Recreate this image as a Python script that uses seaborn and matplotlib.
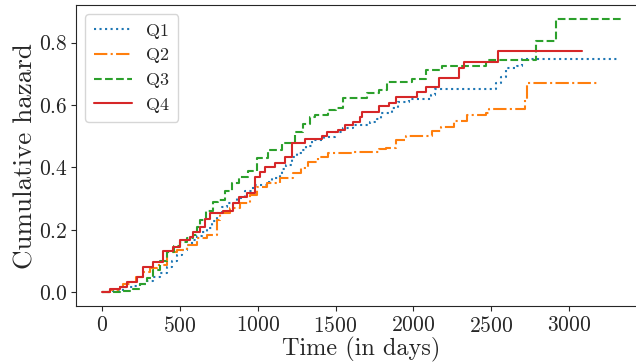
import numpy as np
import pandas as pd
import seaborn as sns
import matplotlib.pyplot as plt

# === Step data (time in days, cumulative hazard) ===
q1_t = [0, 60, 135, 200, 244, 290, 327, 370, 416, 450, 481, 515, 545, 580, 609, 640, 673, 705, 737, 770,
        801, 865, 920, 968, 1058, 1090, 1141, 1154, 1180, 1218, 1250, 1282, 1310, 1346, 1429, 1494, 1545,
        1609, 1718, 1763, 1790, 1860, 1900, 1974, 2115, 2140, 2532, 2564, 2596, 2667, 2699, 3320]
q1_h = [0, 0.006, 0.016, 0.02, 0.026, 0.036, 0.048, 0.063, 0.08, 0.1, 0.12, 0.137, 0.153, 0.167, 0.18, 0.193,
        0.207, 0.23, 0.255, 0.272, 0.287, 0.303, 0.325, 0.345, 0.354, 0.367, 0.376, 0.395, 0.408, 0.434,
        0.445, 0.456, 0.47, 0.488, 0.498, 0.514, 0.526, 0.536, 0.545, 0.555, 0.574, 0.59, 0.61, 0.62,
        0.632, 0.65, 0.67, 0.689, 0.718, 0.724, 0.748, 0.748]

q2_t = [0, 50, 100, 135, 179, 220, 263, 310, 352, 416, 481, 545, 609, 673, 737, 756, 820, 885, 949, 994,
        1058, 1141, 1224, 1280, 1320, 1385, 1449, 1609, 1782, 1827, 1891, 1955, 2122, 2180, 2263, 2346,
        2468, 2487, 2718, 2731, 3192]
q2_h = [0, 0.008, 0.018, 0.026, 0.035, 0.048, 0.064, 0.077, 0.089, 0.128, 0.137, 0.153, 0.175, 0.185,
        0.233, 0.255, 0.271, 0.287, 0.313, 0.338, 0.35, 0.367, 0.383, 0.399, 0.418, 0.434, 0.447, 0.45,
        0.459, 0.462, 0.488, 0.502, 0.517, 0.53, 0.55, 0.568, 0.574, 0.588, 0.62, 0.67, 0.67]

q3_t = [0, 135, 200, 244, 290, 330, 370, 416, 460, 500, 545, 585, 610, 628, 670, 712, 743, 790, 833, 880,
        936, 994, 1064, 1154, 1237, 1288, 1333, 1365, 1449, 1506, 1545, 1699, 1782, 1833, 1994, 2083, 2186,
        2468, 2788, 2917, 3330]
q3_h = [0, 0.004, 0.012, 0.026, 0.045, 0.073, 0.1, 0.13, 0.15, 0.163, 0.175, 0.185, 0.21, 0.233, 0.26, 0.29,
        0.297, 0.325, 0.35, 0.37, 0.39, 0.43, 0.456, 0.478, 0.514, 0.54, 0.56, 0.568, 0.584, 0.59, 0.622,
        0.638, 0.648, 0.673, 0.683, 0.711, 0.724, 0.745, 0.804, 0.876, 0.876]

q4_t = [0, 51, 115, 160, 224, 263, 327, 391, 455, 500, 564, 583, 628, 660, 692, 776, 840, 880, 929, 981,
        1013, 1045, 1109, 1173, 1218, 1301, 1410, 1442, 1513, 1558, 1609, 1654, 1673, 1782, 1846, 1891,
        2026, 2083, 2167, 2290, 2327, 2545, 3083]
q4_h = [0, 0.01, 0.019, 0.032, 0.051, 0.083, 0.096, 0.134, 0.147, 0.169, 0.179, 0.195, 0.21, 0.235, 0.255,
        0.26, 0.287, 0.305, 0.319, 0.37, 0.386, 0.402, 0.415, 0.434, 0.478, 0.491, 0.5, 0.514, 0.52, 0.536,
        0.545, 0.561, 0.577, 0.597, 0.607, 0.626, 0.641, 0.657, 0.688, 0.72, 0.737, 0.772, 0.772]

groups = ["Q1", "Q2", "Q3", "Q4"]
times = [q1_t, q2_t, q3_t, q4_t]
hazards = [q1_h, q2_h, q3_h, q4_h]
styles = [":", "-.", "--", "-"]
colors = sns.color_palette("tab10", 4)

# === Style ===
sns.set_style("ticks")
plt.rcParams["font.family"] = ["cmr10", "DejaVu Serif"]
plt.rcParams["mathtext.fontset"] = "cm"
plt.rcParams["axes.formatter.use_mathtext"] = True

fig = plt.figure(figsize=(6.36, 3.64), dpi=100)
ax = fig.add_axes([0.1195, 0.159, 0.897, 0.827])

for name, t, h, ls, c in zip(groups, times, hazards, styles, colors):
    df = pd.DataFrame({"time": t, "hazard": h})
    sns.lineplot(data=df, x="time", y="hazard", ax=ax, color=c, linestyle=ls,
                 drawstyle="steps-post", estimator=None, linewidth=1.5, label=name)

ax.set_xticks([0, 500, 1000, 1500, 2000, 2500, 3000])
ax.set_yticks([0.0, 0.2, 0.4, 0.6, 0.8])
ax.set_xlabel("Time (in days)", fontsize=17.5, labelpad=1)
ax.set_ylabel("Cumulative hazard", fontsize=19.5, labelpad=1)
ax.tick_params(labelsize=15.5, length=3.5)
ax.tick_params(axis="y", pad=2.5)
ax.legend(loc="upper left", fontsize=13, handlelength=2.1, borderpad=0.5)

fig.savefig("out.png", dpi=100)
